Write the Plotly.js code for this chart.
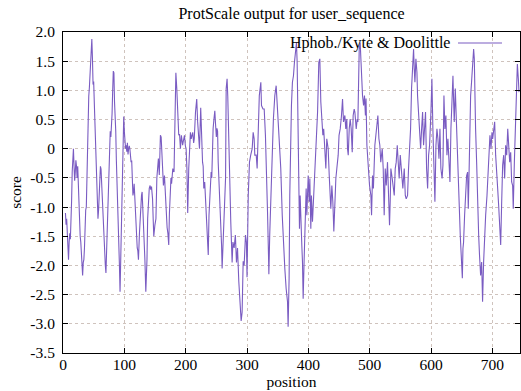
<!DOCTYPE html>
<html>
<head>
<meta charset="utf-8">
<script src="https://cdn.plot.ly/plotly-3.0.1.min.js"></script>
<style>html,body{margin:0;padding:0;background:#fff;}#chart{width:521px;height:391px;}</style>
</head>
<body>
<div id="chart"></div>
<script>
// Residue positions (x) and Kyte & Doolittle hydrophobicity scores (y)
const positions = [
4,5,6,7,8,9,10,11,12,13,14,15,16,17,18,19,20,21,22,23,24,25,26,27,28,29,30,31,32,33,34,35,36,37,38,39,40,41,42,43,44,45,46,47,48,49,50,51,52,53,54,55,56,57,58,59,60,61,62,63,64,65,66,67,68,69,70,71,72,73,74,75,76,77,78,79,80,81,82,83,84,85,86,87,88,89,90,91,92,93,94,95,96,97,98,99,100,101,102,103,104,105,106,107,108,109,110,111,112,113,114,115,116,117,118,119,120,121,122,123,
124.7,126,127,128,129,130,131.6,132.5,133.5,135,136.9,138,139,140.6,142,143,144.3,146,147,148,149.8,151.5,153,154.5,155.5,157,158.8,160,161,162.6,163.7,165.4,167.5,169.7,171,172.4,173.5,174.6,176,177,179,181,182.7,184,185.5,187,188.7,190,191.4,193,195,196.5,198,199.5,200.7,202,203.3,205,206,207.7,209,211.5,213,214,216,218,219.5,221,222.5,224.5,226,227.5,228.5,229.5,231,232,233,234.5,235.5,236.8,238,239.8,241.5,242.5,243,244.7,246,
247.5,248.5,250,251,252,253,255,257,258.5,259.4,261,262,263.8,265,266,267.5,268.6,270,272,273.5,275.7,277,279,281,282.8,284.5,286.6,288.8,290.4,292,293.7,295.3,297.5,299,300,302,304,306,308.4,310,311.6,312.7,315,316.5,318,320,322.5,323.6,326,328,330,331.8,333.4,335,335.6,337,338.8,341,343,345.3,347.5,349,350.8,353,355,357.4,359.5,361.6,363.8,366,367,
368.6,369.7,370.8,372.4,374,375.7,377.3,379,380.6,381.7,382.8,383.9,385.5,386.6,387.7,389.3,390.4,391.5,393,394.7,396.4,397.5,398.6,399.7,401.3,402.4,404,405,406.7,408.3,410.5,413,415,417,418.7,420.3,422,423.6,425,427,428.5,430,432.3,434,435.5,436.6,438.3,439.9,441.5,443,444.8,446.4,448.6,450,451.9,454,455.7,457.3,459.5,461,462.7,463.8,465,466.6,468.2,469.8,471.5,473,474.7,475.8,478,479.6,480.7,482.9,484.5,485.6,486.7,488.3,490,491.5,493,
494,495.4,496.4,498,499.7,501.9,503,504.6,506,508.4,510,511.7,513.3,515,516.5,518,520.4,522,523.6,525.3,527,529,530.7,532.3,533.4,534.5,536.7,538.3,540,541.6,543.2,544.9,546.5,548,549.8,552,554,556.3,558,559.5,561.7,563.3,565,566.6,568.2,569.9,571.5,572.6,573.7,575.3,577,578,579.7,581.3,583,584.6,586.2,587.8,589.5,591,592.7,594.4,596,597.6,599.8,601.4,603,604.7,606.3,608,609.6,611.2,612.9,614.5,616,618,
619.4,621,622.6,624.2,625.9,627.5,629,630.8,632.4,634,635.7,636.8,637.8,639.5,641,642,643.3,645,646.5,647.6,649.3,651,652,653,654.7,656.3,658,659.6,660.7,661.8,662.9,664.5,666,667.8,669.4,670.5,671.6,672.6,674.3,676,677.6,679,680.8,682.5,684,685.7,687.4,689,691.2,692.8,694.5,696,697.7,699.3,700.4,702,703.7,705.3,707,708.6,710.2,711.8,713.5,715,716.7,718.4,720,721.6,723.3,725,726.6,728.2,729.8,731.4,733,734,735.8,737.4,739,740.7,742.3,743.4
];
const scores = [
-1.1,-1.3,-1.2,-1.45,-1.55,-1.9,-1.6,-1.45,-1.55,-1.3,-0.9,-0.4,-0.1,0.0,-0.3,-0.55,-0.4,-0.2,-0.3,-0.5,-0.3,-0.7,-1.1,-1.3,-1.5,-1.6,-1.9,-2.1,-2.17,-1.95,-1.9,-1.7,-1.3,-1.05,-1.0,-0.4,0.3,0.85,0.9,1.05,1.3,1.55,1.6,1.88,1.55,1.1,1.15,0.8,0.5,0.0,-0.35,-0.6,-0.85,-1.2,-1.05,-0.7,-0.5,-0.3,-0.35,-0.6,-0.9,-1.3,-1.4,-1.65,-1.75,-2.0,-2.13,-1.8,-1.4,-1.0,-0.6,-0.3,0.2,0.3,0.2,0.35,0.6,1.0,1.33,1.3,0.8,0.6,0.3,-0.2,-0.5,-0.9,-1.3,-1.7,-2.0,-2.45,-1.9,-1.3,-0.7,0.0,0.4,0.55,0.3,0.1,0.0,0.06,-0.05,0.1,-0.1,0.0,0.05,0.0,-0.1,-0.23,-0.2,-0.5,-0.8,-0.74,-0.6,-0.8,-1.2,-1.2,-1.5,-1.7,-1.75,-1.9,
-1.43,-1.1,-0.9,-0.8,-0.74,-1.0,-1.2,-1.5,-1.9,-2.45,-1.9,-1.2,-0.9,-0.68,-0.63,-0.7,-0.65,-0.86,-1.2,-1.5,-1.31,-1.2,-0.5,-0.3,-0.17,-0.45,0.23,0.2,-0.1,-0.5,-0.63,-0.46,-1.0,-1.35,-1.45,-1.65,-1.1,-0.8,-0.5,-0.6,-0.34,-0.4,0.34,1.3,1.03,0.63,0.23,0.25,0.0,0.23,0.06,0.15,0.23,0.05,0.0,-0.34,-1.1,-0.34,0.0,0.28,0.17,0.28,0.1,0.17,0.63,0.85,0.46,0.1,0.0,0.7,0.11,-0.23,-0.3,-0.68,-0.57,-0.8,-1.08,-1.25,-1.48,-1.82,-1.14,-0.68,-0.4,-0.5,-0.1,0.34,0.5,
0.65,0.45,0.2,0.35,0.3,-0.23,-0.68,-1.14,-1.65,-2.05,-1.6,-1.37,-1.08,-0.5,1.03,1.2,0.9,0.17,-0.63,-1.25,-1.95,-1.6,-1.7,-1.48,-1.95,-1.7,-2.28,-2.68,-2.95,-2.8,-1.93,-2.0,-1.48,-1.6,-2.2,-0.8,-0.23,-0.11,0.0,0.28,0.17,-0.11,-0.11,-0.34,0.11,0.91,1.14,0.74,0.68,0.68,0.23,-0.34,-1.08,-1.82,-2.15,-1.48,-0.8,0.06,0.51,0.91,1.08,0.8,0.46,0.11,-0.34,-1.14,-1.71,-2.05,-2.4,-2.62,-3.05,
-2.22,-0.8,0.34,0.74,1.14,1.25,1.48,1.71,1.82,1.48,0.63,-0.23,-1.37,-0.8,-1.37,-1.65,-1.94,-2.57,-1.94,-1.37,-0.68,-1.14,-0.8,-0.46,-0.91,-0.51,-1.37,-0.8,-1.25,-0.91,-0.23,0.23,0.63,1.48,1.54,0.8,0.57,0.23,0.34,-0.11,-0.34,0.17,0.0,-0.46,-0.8,-1.03,-0.63,-0.91,-1.42,-0.8,-0.51,-0.34,-0.11,0.23,0.34,0.57,0.85,0.46,0.57,0.34,0.51,0.0,-0.11,0.34,0.51,0.34,-0.06,0.57,0.68,0.63,0.34,0.51,0.46,1.71,1.82,1.54,1.08,0.91,0.74,0.91,0.57,
0.86,0.06,-0.11,-0.51,-0.63,-0.8,-1.14,-0.46,-0.68,0.06,0.23,0.46,0.57,0.17,0.06,-0.23,0.0,-0.34,-1.14,-0.34,-0.63,-0.23,-0.8,-1.31,-0.91,-0.34,-0.51,-0.68,-0.8,-0.34,-0.23,0.06,-0.34,-0.51,-0.11,-0.46,-0.68,-0.34,-0.8,-0.86,-0.8,-0.34,0.0,0.34,1.03,1.48,1.71,1.37,1.14,1.54,1.31,0.91,0.57,0.23,0.0,0.34,0.63,0.06,0.34,0.63,-0.34,-0.68,-0.11,0.06,0.63,1.2,0.34,-0.51,-0.91,0.06,0.34,0.17,-0.17,0.34,-0.34,-0.51,
-0.28,0.91,0.34,0.57,-0.11,0.17,-0.23,-0.57,0.34,0.68,1.25,0.8,0.46,1.03,0.63,0.23,-0.11,-0.68,-1.14,-1.48,-1.82,-2.22,-1.71,-1.6,-1.14,-0.68,-0.46,-0.4,-1.03,-0.51,0.34,0.91,1.14,1.54,1.71,1.54,0.63,0.34,-0.23,-1.08,-1.48,-1.82,-2.17,-1.94,-2.62,-1.94,-1.37,-1.14,-0.8,-0.4,0.0,0.23,0.0,0.28,0.17,0.34,0.46,-0.11,-0.51,-0.68,-0.97,-1.37,-1.65,-0.97,-0.28,-0.11,-0.51,0.06,-0.11,0.34,0.0,-0.23,-0.06,-0.57,-0.63,-1.03,-0.23,0.34,0.91,1.45,1.2,0.97
];
const seriesName = 'Hphob./Kyte & Doolittle';
const xTickVals = [0,100,200,300,400,500,600,700];
const yTickVals = [2.0,1.5,1.0,0.5,0,-0.5,-1.0,-1.5,-2.0,-2.5,-3.0,-3.5];
const yTickText = ['2.0','1.5','1.0','0.5','0','-0.5','-1.0','-1.5','-2.0','-2.5','-3.0','-3.5'];

const lineColor = '#7a5cc2';
const serif = '"Liberation Serif", "Times New Roman", serif';

const trace = {
  x: positions, y: scores, type: 'scatter', mode: 'lines', name: seriesName,
  line: {color: lineColor, width: 1.1}, showlegend: false
};

const axisCommon = {
  showline: true, linecolor: '#000', linewidth: 1, mirror: 'ticks',
  ticks: 'inside', ticklen: 5, tickcolor: '#000', tickwidth: 1,
  showgrid: true, gridcolor: '#cfc3bd', griddash: 'dot', gridwidth: 1,
  zeroline: false, tickfont: {family: serif, size: 15.5, color: '#000'}
};

const layout = {
  width: 521, height: 391,
  margin: {l: 63, r: 1, t: 32, b: 38},
  paper_bgcolor: '#fff', plot_bgcolor: '#fff',
  font: {family: serif, size: 15, color: '#000'},
  title: {text: 'ProtScale output for user_sequence', x: 0.5, xref: 'paper',
          y: 1 - 13/391, yref: 'container', yanchor: 'middle', font: {family: serif, size: 16, color: '#000'}},
  xaxis: Object.assign({}, axisCommon, {
    range: [0, 745], tickvals: xTickVals, ticklabelstandoff: -3,
    title: {text: 'position', standoff: 0, font: {family: serif, size: 15.5, color: '#000'}}
  }),
  yaxis: Object.assign({}, axisCommon, {
    range: [-3.5, 2.0], tickvals: yTickVals, ticktext: yTickText, ticklabelstandoff: 4,
    title: {text: 'score', standoff: 4, font: {family: serif, size: 15.5, color: '#000'}}
  }),
  annotations: [{
    text: seriesName, xref: 'paper', yref: 'paper', x: (452-63)/457, y: (353-43)/321,
    xanchor: 'right', yanchor: 'middle', showarrow: false, font: {family: serif, size: 16, color: '#000'}
  }],
  shapes: [{
    type: 'line', xref: 'paper', yref: 'paper', x0: (458-63)/457, x1: (502-63)/457,
    y0: (353-43)/321, y1: (353-43)/321, line: {color: lineColor, width: 1.1}
  }]
};

Plotly.newPlot('chart', [trace], layout, {staticPlot: true, displayModeBar: false});
</script>
</body>
</html>
